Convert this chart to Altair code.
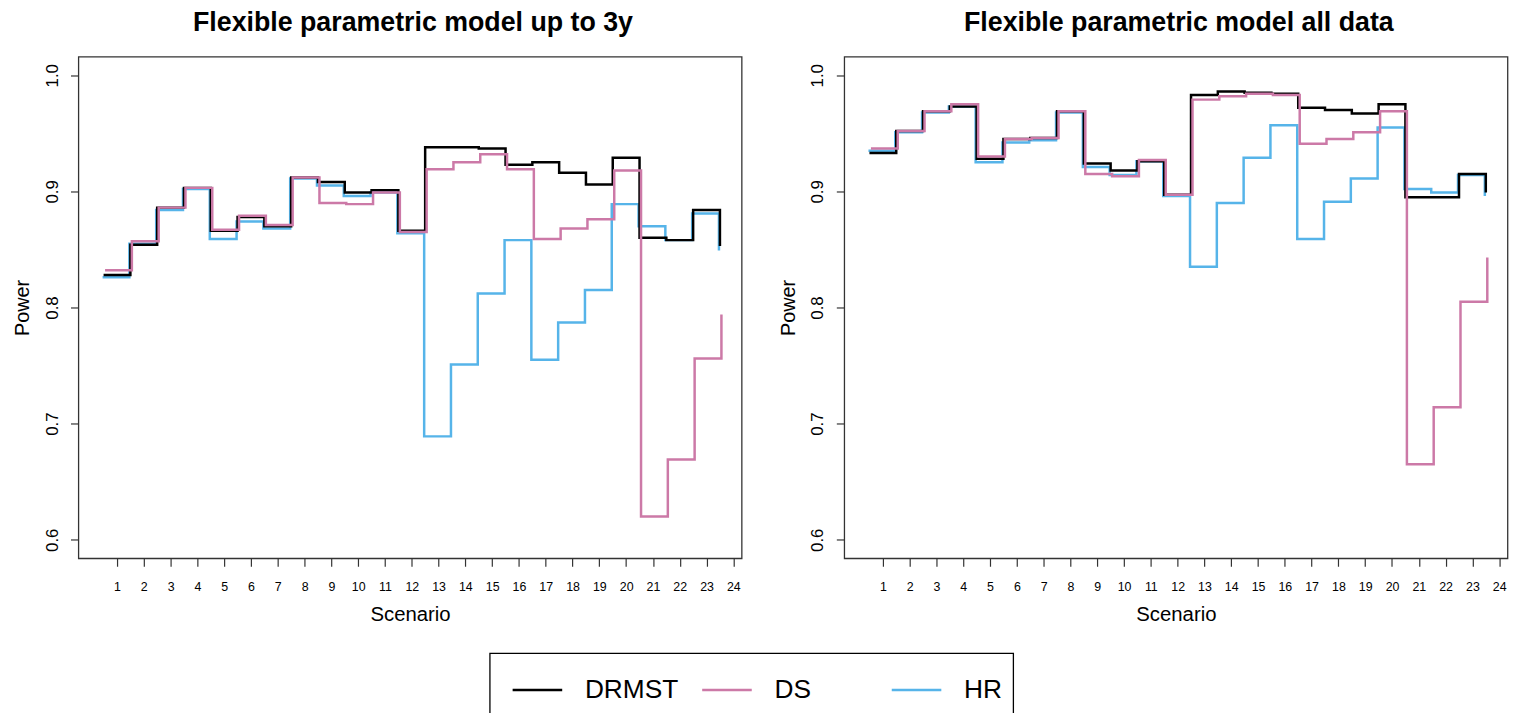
import altair as alt
import pandas as pd

scenarios = list(range(1, 25))
methods = ["DRMST", "DS", "HR"]
colors = ["#000000", "#CC79A7", "#56B4E9"]
panel_titles = ["Flexible parametric model up to 3y", "Flexible parametric model all data"]
y_ticks = [0.6, 0.7, 0.8, 0.9, 1.0]

# Panel 1: up to 3y
drmst_3y = [0.828, 0.854, 0.886, 0.903, 0.866, 0.878, 0.870, 0.912, 0.908, 0.899, 0.901, 0.866,
            0.938, 0.938, 0.937, 0.923, 0.925, 0.916, 0.906, 0.929, 0.860, 0.858, 0.884, 0.853]
ds_3y = [0.832, 0.857, 0.886, 0.903, 0.867, 0.879, 0.871, 0.912, 0.890, 0.889, 0.899, 0.865,
         0.919, 0.925, 0.932, 0.919, 0.859, 0.868, 0.876, 0.918, 0.620, 0.669, 0.756, 0.794]
hr_3y = [0.826, 0.855, 0.884, 0.902, 0.859, 0.874, 0.868, 0.911, 0.905, 0.896, 0.899, 0.864,
         0.689, 0.751, 0.812, 0.858, 0.755, 0.787, 0.815, 0.889, 0.870, 0.858, 0.881, 0.849]

# Panel 2: all data
drmst_all = [0.933, 0.952, 0.969, 0.973, 0.928, 0.945, 0.946, 0.969, 0.924, 0.918, 0.926, 0.897,
             0.983, 0.986, 0.985, 0.984, 0.972, 0.970, 0.967, 0.975, 0.895, 0.895, 0.915, 0.899]
ds_all = [0.937, 0.952, 0.969, 0.975, 0.930, 0.945, 0.946, 0.969, 0.915, 0.913, 0.927, 0.897,
          0.979, 0.982, 0.984, 0.983, 0.941, 0.945, 0.951, 0.969, 0.665, 0.714, 0.805, 0.843]
hr_all = [0.935, 0.951, 0.968, 0.973, 0.925, 0.942, 0.944, 0.968, 0.921, 0.914, 0.926, 0.896,
          0.835, 0.890, 0.929, 0.957, 0.859, 0.891, 0.911, 0.955, 0.902, 0.899, 0.914, 0.896]

FONT = "Liberation Sans"
W, H = 669, 506
PAD_L, PAD_T = 3, -3


def panel_df(series_list):
    rows = []
    for m, series in zip(methods, series_list):
        for s, v in zip(scenarios, series):
            rows.append({"method": m, "scenario": s, "power": v})
    return pd.DataFrame(rows)


color_scale = alt.Scale(domain=methods, range=colors)
x_scale = alt.Scale(domain=[-0.44, 24.31], nice=False, zero=False)
y_scale = alt.Scale(domain=[0.584, 1.016], nice=False, zero=False)

x_axis = alt.Axis(values=scenarios, title="Scenario", domain=False, grid=False,
                  tickSize=8, tickColor="#333333", tickWidth=1.2,
                  labelFont=FONT, labelFontSize=12.5, labelColor="black",
                  labelBaseline="alphabetic", labelPadding=24, labelFlush=False,
                  labelOverlap=False,
                  titleFont=FONT, titleFontSize=20.5, titleFontWeight="normal",
                  titleColor="black", titleBaseline="alphabetic", titleY=62.5,
                  titleX=W / 2)
y_axis = alt.Axis(values=y_ticks, format=".1f", title="Power", domain=False, grid=False,
                  tickSize=8, tickColor="#333333", tickWidth=1.2,
                  labelFont=FONT, labelFontSize=17, labelColor="black",
                  labelAngle=270, labelAlign="center", labelBaseline="alphabetic",
                  labelPadding=13.5, labelFlush=False, labelOverlap=False,
                  titleFont=FONT, titleFontSize=20, titleFontWeight="normal",
                  titleColor="black", titleAngle=270, titleAlign="center",
                  titleBaseline="alphabetic", titleX=-50.4, titleY=H / 2)

# legend position is relative to the top-left corner of the left plot area
legend = alt.Legend(title=None, orient="none", legendX=414.9, legendY=601.7,
                    direction="horizontal", columns=3, symbolType="stroke",
                    symbolSize=2500, symbolStrokeWidth=2.5,
                    labelFont=FONT, labelFontSize=26.5, labelColor="black",
                    labelOffset=21.4, symbolOffset=11, padding=10.6,
                    strokeColor="black", columnPadding=11.2, gridAlign="all",
                    labelBaseline="middle")


def make_panel(series_list, title):
    df = panel_df(series_list)
    base = alt.Chart(df).transform_calculate(xpos="datum.scenario - 0.5")
    layers = []
    for m, off in [("HR", -1.0), ("DRMST", 0.0), ("DS", 1.5)]:
        layers.append(
            base.transform_filter(alt.datum.method == m)
            .mark_line(interpolate="step-after", strokeWidth=2.5, xOffset=off)
            .encode(
                x=alt.X("xpos:Q", scale=x_scale, axis=x_axis),
                y=alt.Y("power:Q", scale=y_scale, axis=y_axis),
                color=alt.Color("method:N", scale=color_scale, legend=legend),
            )
        )
    return alt.layer(*layers).properties(
        width=W, height=H,
        title=alt.TitleParams(title, font=FONT, fontSize=27, fontWeight="bold",
                              color="black", anchor="middle", baseline="alphabetic",
                              offset=-1.6, frame="group", dx=3),
    )


left = make_panel([drmst_3y, ds_3y, hr_3y], panel_titles[0])
right = make_panel([drmst_all, ds_all, hr_all], panel_titles[1])

chart = (
    alt.hconcat(left, right, spacing=34.5)
    .properties(padding={"left": PAD_L, "top": PAD_T, "right": 0, "bottom": 0})
    .configure_view(stroke="#333333", strokeWidth=1.3)
    .configure_legend(strokeWidth=1.3)
)

chart.save("out.html", embed_options={"renderer": "svg", "actions": False})
